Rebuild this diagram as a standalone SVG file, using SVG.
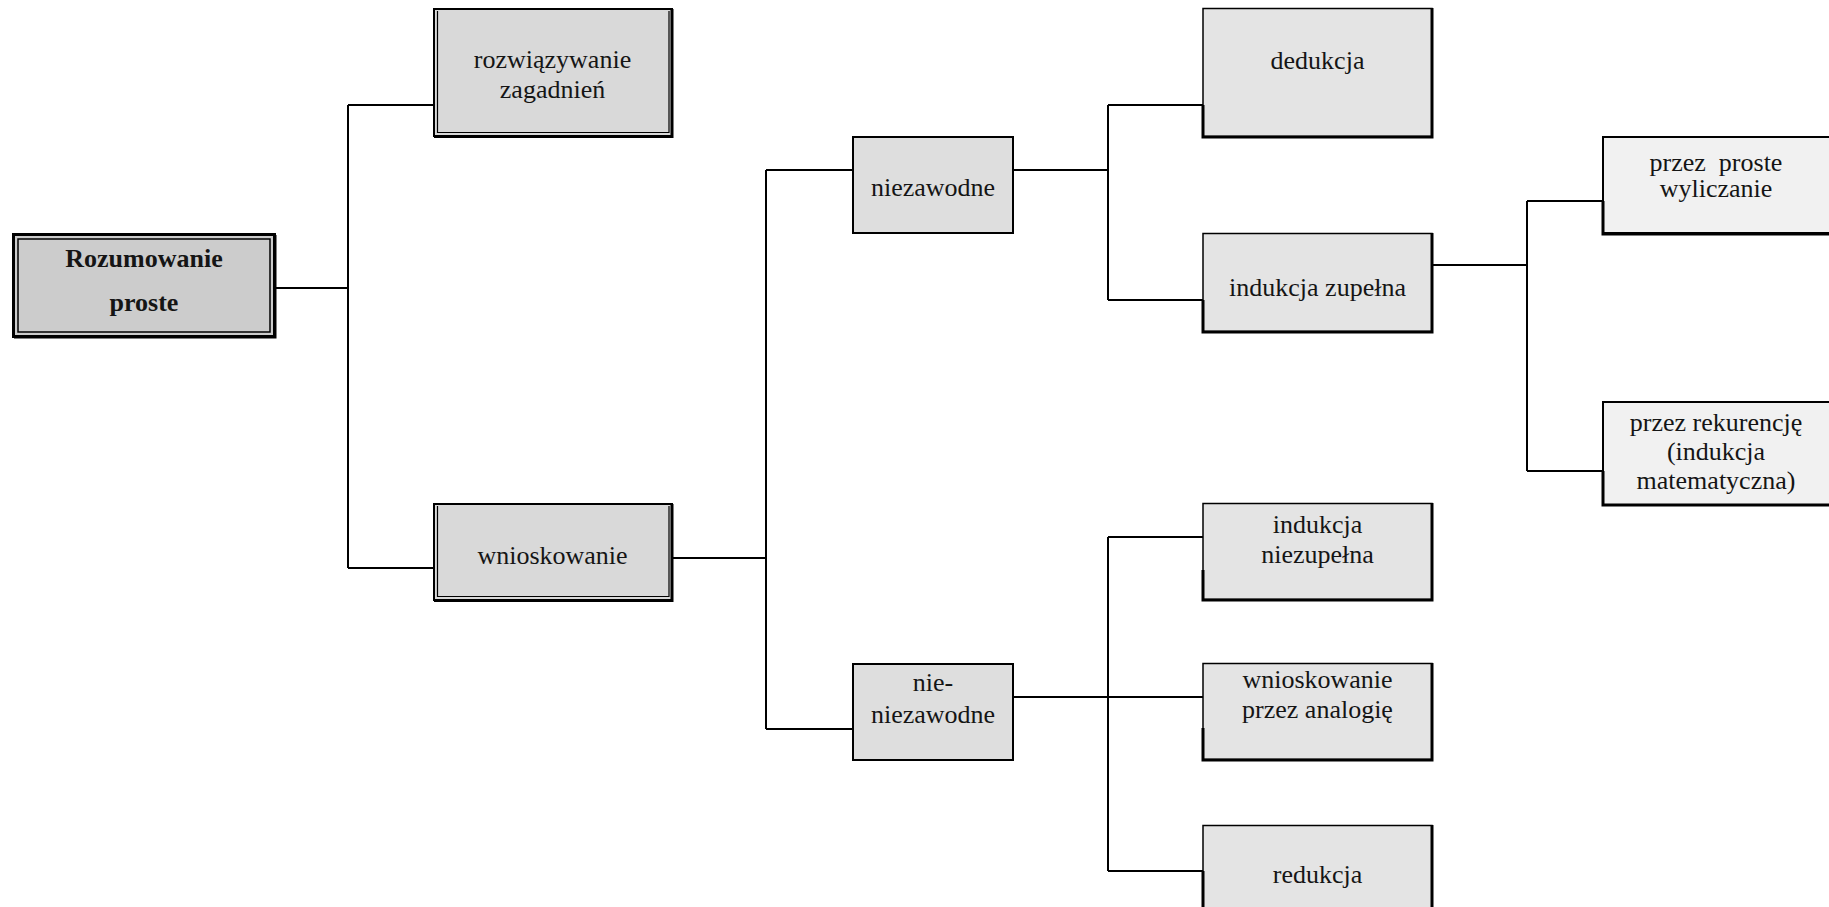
<svg xmlns="http://www.w3.org/2000/svg" width="1829" height="907" viewBox="0 0 1829 907">
  <style>
    .t { font-family: "Liberation Serif", "Times New Roman", serif; font-size: 26px; fill: #151515; text-anchor: middle; }
    .b { font-weight: bold; }
    .edge { fill: none; stroke: #000; stroke-width: 2; }
    .frame { stroke: #000; }
    .shadow { fill: none; stroke: #000; stroke-width: 3; }
    .l0 { fill: #cccccc; }
    .l1 { fill: #d9d9d9; }
    .l2 { fill: #dedede; }
    .l3 { fill: #e4e4e4; }
    .l4 { fill: #f1f1f1; }
  </style>
  <rect width="1829" height="907" fill="#ffffff"/>

  <!-- connectors -->
  <g id="connectors" class="edge">
    <path d="M276,288 H348 M348,105 V568 M348,105 H433 M348,568 H433"/>
    <path d="M672,558 H766 M766,170 V729 M766,170 H853 M766,729 H853"/>
    <path d="M1013,170 H1108 M1108,105 V300 M1108,105 H1203 M1108,300 H1203"/>
    <path d="M1013,697 H1203 M1108,537 V871 M1108,537 H1203 M1108,871 H1203"/>
    <path d="M1432,265 H1527 M1527,201 V471 M1527,201 H1603 M1527,471 H1603"/>
  </g>

  <!-- root -->
  <g id="rozumowanie-proste">
    <rect x="13.5" y="234.5" width="261" height="102" class="l0 frame" stroke-width="3"/>
    <rect x="18" y="239" width="252" height="93" fill="none" class="frame" stroke-width="1.5"/>
    <path d="M275,235 V337 H14" class="shadow" stroke-width="2"/>
    <text class="t b" x="144" y="267">Rozumowanie</text>
    <text class="t b" x="144" y="311">proste</text>
  </g>

  <!-- level 1 -->
  <g id="rozwiazywanie-zagadnien">
    <rect x="434" y="9" width="238" height="127" class="l1 frame" stroke-width="2"/>
    <path d="M437.5,11 V132.5 H669 V11" fill="none" class="frame" stroke-width="1.2"/>
    <path d="M672,9 V136.5 H434" class="shadow"/>
    <text class="t" x="552.5" y="68">rozwiązywanie</text>
    <text class="t" x="552.5" y="98">zagadnień</text>
  </g>
  <g id="wnioskowanie">
    <rect x="434" y="504" width="238" height="96" class="l1 frame" stroke-width="2"/>
    <path d="M437.5,506 V596.5 H669 V506" fill="none" class="frame" stroke-width="1.2"/>
    <path d="M672,504 V600.5 H434" class="shadow"/>
    <text class="t" x="552.5" y="564">wnioskowanie</text>
  </g>

  <!-- level 2 -->
  <g id="niezawodne">
    <rect x="853" y="137" width="160" height="96" class="l2 frame" stroke-width="2"/>
    <text class="t" x="933" y="196">niezawodne</text>
  </g>
  <g id="nie-niezawodne">
    <rect x="853" y="664" width="160" height="96" class="l2 frame" stroke-width="2"/>
    <text class="t" x="933" y="691">nie-</text>
    <text class="t" x="933" y="723">niezawodne</text>
  </g>

  <!-- level 3 -->
  <g id="dedukcja">
    <rect x="1203" y="8.5" width="229" height="128" class="l3 frame" stroke-width="1.5"/>
    <path d="M1432,8 V137 H1203 V105" class="shadow"/>
    <text class="t" x="1317.5" y="69">dedukcja</text>
  </g>
  <g id="indukcja-zupelna">
    <rect x="1203" y="233.5" width="229" height="98" class="l3 frame" stroke-width="1.5"/>
    <path d="M1432,233 V332 H1203 V300" class="shadow"/>
    <text class="t" x="1317.5" y="296">indukcja zupełna</text>
  </g>
  <g id="indukcja-niezupelna">
    <rect x="1203" y="503.5" width="229" height="96" class="l3 frame" stroke-width="1.5"/>
    <path d="M1432,503 V600 H1203 V570" class="shadow"/>
    <text class="t" x="1317.5" y="533">indukcja</text>
    <text class="t" x="1317.5" y="563">niezupełna</text>
  </g>
  <g id="wnioskowanie-przez-analogie">
    <rect x="1203" y="663.5" width="229" height="96" class="l3 frame" stroke-width="1.5"/>
    <path d="M1432,663 V760 H1203 V728" class="shadow"/>
    <text class="t" x="1317.5" y="688">wnioskowanie</text>
    <text class="t" x="1317.5" y="718">przez analogię</text>
  </g>
  <g id="redukcja">
    <rect x="1203" y="825.5" width="229" height="90" class="l3 frame" stroke-width="1.5"/>
    <path d="M1432,825 V910 M1203,871 V910" class="shadow"/>
    <text class="t" x="1317.5" y="883">redukcja</text>
  </g>

  <!-- level 4 -->
  <g id="przez-proste-wyliczanie">
    <rect x="1603" y="137" width="232" height="96" class="l4 frame" stroke-width="2"/>
    <path d="M1603,201 V234 H1830" class="shadow"/>
    <text class="t" x="1716" y="171" xml:space="preserve">przez  proste</text>
    <text class="t" x="1716" y="197">wyliczanie</text>
  </g>
  <g id="przez-rekurencje">
    <rect x="1603" y="402" width="232" height="103" class="l4 frame" stroke-width="2"/>
    <path d="M1603,471 V505 H1830" class="shadow"/>
    <text class="t" x="1716" y="431">przez rekurencję</text>
    <text class="t" x="1716" y="460">(indukcja</text>
    <text class="t" x="1716" y="489">matematyczna)</text>
  </g>
</svg>
